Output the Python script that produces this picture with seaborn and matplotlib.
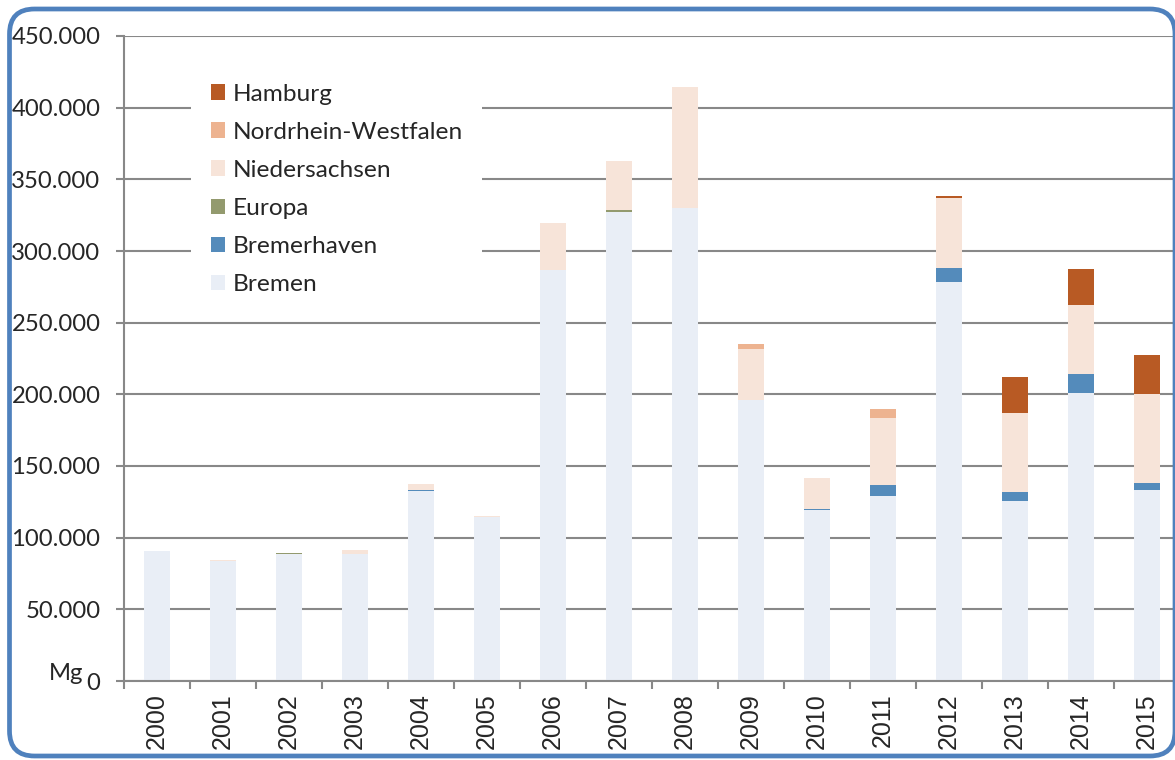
import numpy as np
import pandas as pd
import matplotlib
matplotlib.use("Agg")
import matplotlib.pyplot as plt
import seaborn as sns
from matplotlib.patches import Patch, FancyBboxPatch
from matplotlib.ticker import FuncFormatter, FixedLocator

# Daten (Mg pro Jahr)
years = [str(y) for y in range(2000, 2016)]
bremen = [90700, 83800, 88600, 88600, 132300, 114200, 286700, 327500,
          329800, 196000, 119500, 129300, 278400, 125800, 200700, 133300]
bremerhaven = [0, 0, 0, 0, 1000, 0, 0, 0, 0, 0, 700, 7400, 9700, 6100, 13500, 4600]
europa = [0, 0, 500, 0, 0, 0, 0, 1000, 0, 0, 0, 0, 0, 0, 0, 0]
niedersachsen = [0, 400, 200, 2800, 4100, 900, 32800, 34100,
                 84600, 35600, 21200, 46800, 48900, 54900, 47900, 62100]
nrw = [0, 0, 0, 0, 0, 0, 0, 0, 0, 3500, 500, 6300, 0, 0, 0, 0]
hamburg = [0, 0, 0, 0, 0, 0, 0, 0, 0, 0, 0, 0, 1400, 25100, 25300, 27200]

series_names = ["Bremen", "Bremerhaven", "Europa", "Niedersachsen",
                "Nordrhein-Westfalen", "Hamburg"]
series_values = [bremen, bremerhaven, europa, niedersachsen, nrw, hamburg]
series_colors = ["#E9EEF6", "#548BBB", "#939A6E", "#F7E4D9", "#EDB390", "#B85A24"]

df = pd.DataFrame(dict(zip(series_names, series_values)), index=years)

sns.set_style("white")
plt.rcParams['font.family'] = ['Lato', 'DejaVu Sans']

fig = plt.figure(figsize=(11.75, 7.6), dpi=100)
W, H = 1175, 760
ax = fig.add_axes([124 / W, 1 - 681 / H, 1056 / W, 645 / H])

# gestapelte Balken (saturation=1, sonst werden die Farben blasser)
bottom = np.zeros(len(years))
for name, color in zip(series_names, series_colors):
    sns.barplot(x=years, y=df[name].values, bottom=bottom, color=color,
                saturation=1, width=0.4, linewidth=0, ax=ax, zorder=2)
    bottom = bottom + df[name].values

ax.set_ylim(0, 450000)
ax.set_xlim(-0.5, 15.5)
ax.set_yticks(np.arange(0, 450001, 50000))
ax.yaxis.set_major_formatter(FuncFormatter(lambda v, p: f"{v:,.0f}".replace(",", ".")))
ax.set_axisbelow(True)
ax.grid(axis="y", color="#888888", linewidth=1.5)
ax.grid(axis="x", visible=False)

for side in ["top", "right"]:
    ax.spines[side].set_visible(False)
for side in ["left", "bottom"]:
    ax.spines[side].set_color("#888888")
    ax.spines[side].set_linewidth(1.5)

ax.tick_params(axis="y", length=6, width=1.5, color="#888888", pad=11,
               labelsize=17.2, left=True)
ax.xaxis.set_minor_locator(FixedLocator(np.arange(-0.5, 16, 1)))
ax.tick_params(axis="x", which="major", length=0, pad=9)
ax.tick_params(axis="x", which="minor", length=6, width=1.5, color="#888888", bottom=True)
ax.set_xticks(range(len(years)))
ax.set_xticklabels(years, rotation=90, fontsize=18, family=["Liberation Sans"])
ax.set_xlabel("")
ax.set_ylabel("")

fig.text(66 / W, 1 - 673 / H, "Mg", ha="center", va="center", fontsize=17.2)

# Legende (umgekehrte Reihenfolge)
handles = [Patch(facecolor=c, edgecolor="none") for c in series_colors][::-1]
labels = series_names[::-1]
leg = ax.legend(handles, labels, loc="upper left",
                bbox_to_anchor=((191 - 124) / 1056, (681 - 64) / 645),
                fontsize=17.6, frameon=True, facecolor="white", edgecolor="none",
                framealpha=1, borderpad=0.8, borderaxespad=0, labelspacing=0.7,
                handlelength=0.6, handleheight=0.6, handletextpad=0.3)

# abgerundeter blauer Rahmen
frame = FancyBboxPatch((9.5 / 100, (H - 756) / 100), (1175 - 9.5) / 100, (756 - 9) / 100,
                       boxstyle="round,pad=0,rounding_size=0.25",
                       transform=fig.dpi_scale_trans, facecolor="none",
                       edgecolor="#4F81BD", linewidth=3.4, zorder=10, clip_on=False)
fig.patches.append(frame)

fig.savefig("out.png", dpi=100)
